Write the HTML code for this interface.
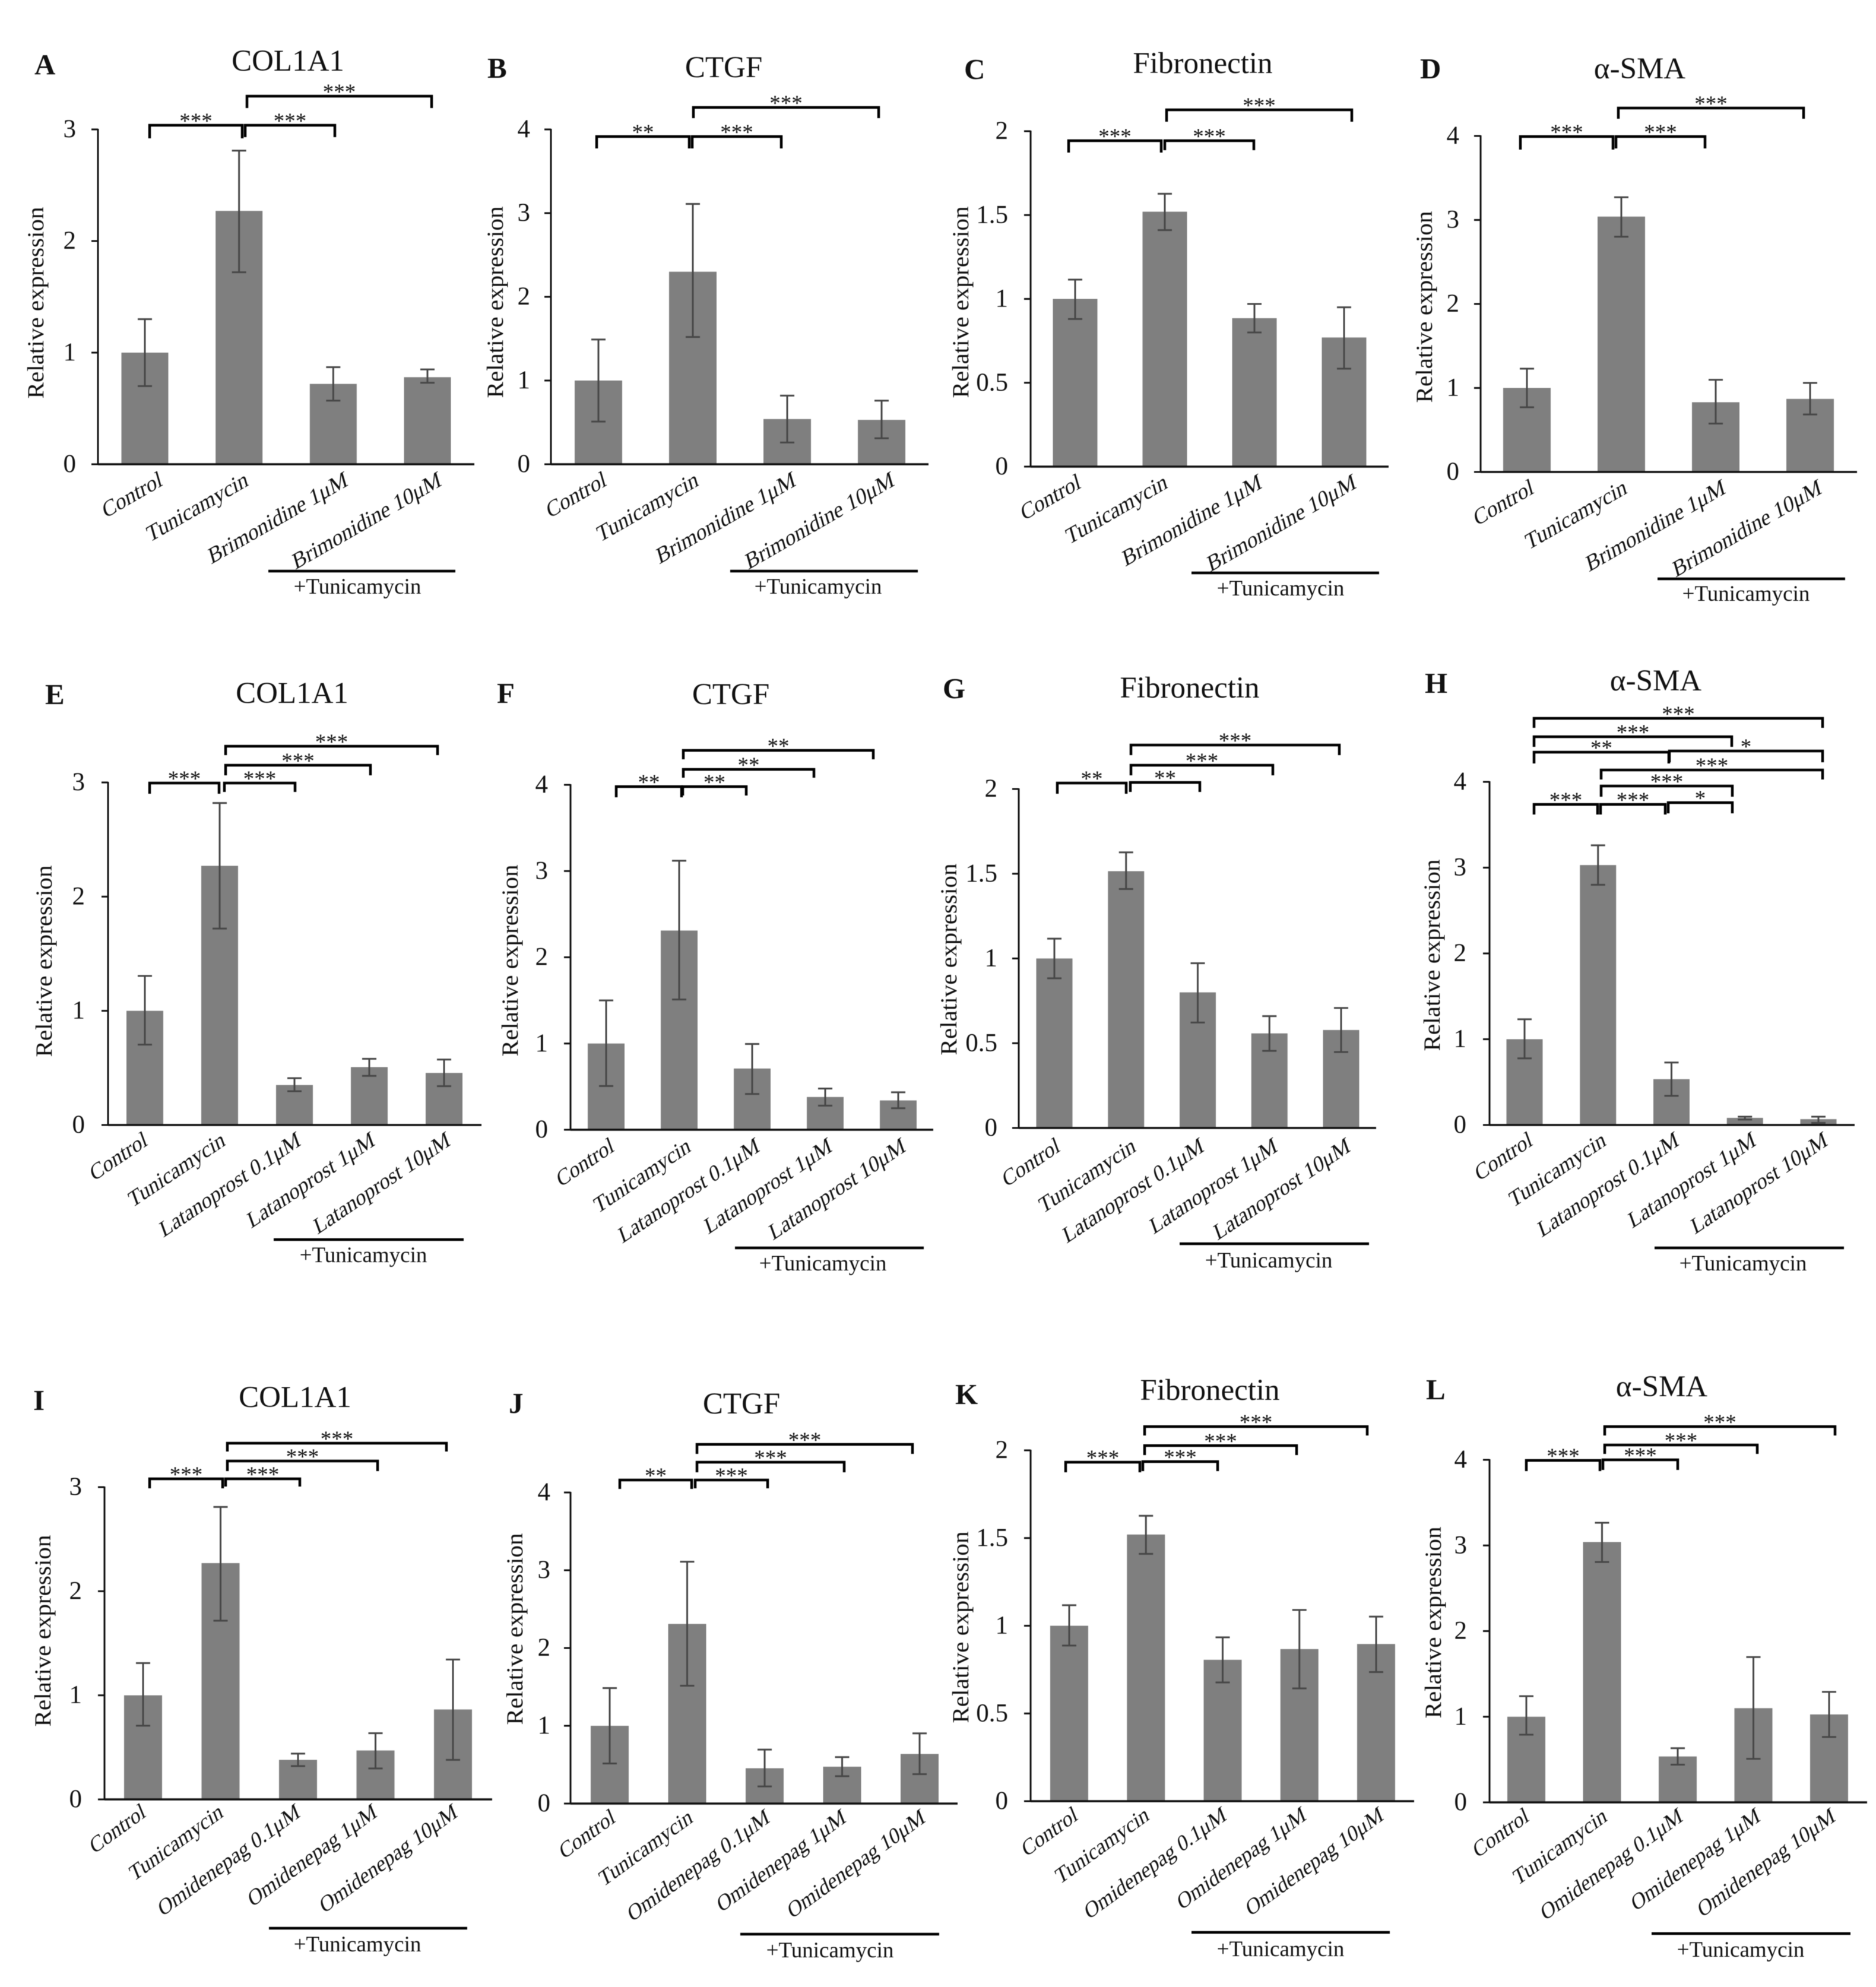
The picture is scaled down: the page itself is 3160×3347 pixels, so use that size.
<!DOCTYPE html>
<html lang="en">
<head>
<meta charset="utf-8">
<title>Relative expression of fibrosis markers</title>
<style>
html,body{margin:0;padding:0;background:#fff;}
svg{display:block;filter:blur(0.6px);}
text{font-family:"Liberation Serif","Noto Serif CJK SC",serif;fill:#111;}
</style>
</head>
<body>
<svg id="figure" xmlns="http://www.w3.org/2000/svg" width="3160" height="3347" viewBox="0 0 3160 3347"></svg>
<script>
// ---- categories ----
const categoriesBrimonidine = ['Control','Tunicamycin','Brimonidine 1μM','Brimonidine 10μM'];
const categoriesLatanoprost = ['Control','Tunicamycin','Latanoprost 0.1μM','Latanoprost 1μM','Latanoprost 10μM'];
const categoriesOmidenepag = ['Control','Tunicamycin','Omidenepag 0.1μM','Omidenepag 1μM','Omidenepag 10μM'];

// ---- tick labels ----
const ticksCol = ['0','1','2','3'];
const ticksFour = ['0','1','2','3','4'];
const ticksFib = ['0','0.5','1','1.5','2'];

// ---- series values and error limits ----
const valuesA = [1, 2.27, 0.72, 0.78];
const lowerA = [0.7, 1.72, 0.57, 0.73];
const upperA = [1.3, 2.81, 0.87, 0.85];
const valuesB = [1, 2.3, 0.54, 0.53];
const lowerB = [0.51, 1.52, 0.26, 0.31];
const upperB = [1.49, 3.11, 0.82, 0.76];
const valuesC = [1, 1.52, 0.885, 0.77];
const lowerC = [0.88, 1.41, 0.8, 0.584];
const upperC = [1.115, 1.627, 0.97, 0.95];
const valuesD = [1, 3.04, 0.83, 0.87];
const lowerD = [0.77, 2.8, 0.576, 0.685];
const upperD = [1.23, 3.27, 1.097, 1.06];
const valuesE = [1, 2.27, 0.35, 0.507, 0.456];
const lowerE = [0.704, 1.72, 0.296, 0.43, 0.34];
const upperE = [1.306, 2.82, 0.41, 0.58, 0.573];
const valuesF = [1, 2.31, 0.71, 0.38, 0.34];
const lowerF = [0.507, 1.51, 0.415, 0.28, 0.25];
const upperF = [1.5, 3.12, 0.995, 0.478, 0.435];
const valuesG = [1, 1.515, 0.8, 0.558, 0.578];
const lowerG = [0.883, 1.41, 0.622, 0.455, 0.448];
const upperG = [1.117, 1.626, 0.972, 0.66, 0.708];
const valuesH = [1, 3.03, 0.534, 0.083, 0.068];
const lowerH = [0.777, 2.8, 0.34, 0.063, 0.024];
const upperH = [1.233, 3.26, 0.728, 0.097, 0.097];
const valuesI = [1, 2.27, 0.38, 0.47, 0.864];
const lowerI = [0.708, 1.717, 0.32, 0.297, 0.38];
const upperI = [1.31, 2.81, 0.44, 0.636, 1.344];
const valuesJ = [1, 2.31, 0.454, 0.474, 0.638];
const lowerJ = [0.515, 1.515, 0.22, 0.352, 0.378];
const upperJ = [1.485, 3.11, 0.694, 0.597, 0.903];
const valuesK = [1, 1.52, 0.806, 0.867, 0.896];
const lowerK = [0.887, 1.41, 0.677, 0.643, 0.736];
const upperK = [1.117, 1.627, 0.934, 1.09, 1.052];
const valuesL = [1, 3.04, 0.536, 1.1, 1.027];
const lowerL = [0.79, 2.807, 0.44, 0.509, 0.763];
const upperL = [1.24, 3.265, 0.633, 1.697, 1.29];

// ---- panel layout (plot frames and annotation placement) ----
const panels = [
 {id:'A',name:'COL1A1',cats:categoriesBrimonidine,vals:valuesA,lo:lowerA,hi:upperA,ticks:ticksCol,
  l:165,r:799,t:218,b:782,first:244,last:720,bw:79,titleX:485,titleY:119,letterX:58,letterY:125,tickR:128,yx:73,yc:510,
  ux1:452,ux2:767,uy:962,px:602,py:1000,dx:[31,17,26,25],top:14,angle:30,ls:37,
  br:[[252,408,210,233,233,'***'],[413,564,210,231,231,'***'],[416,727,161,182,182,'***']]},
 {id:'B',name:'CTGF',cats:categoriesBrimonidine,vals:valuesB,lo:lowerB,hi:upperB,ticks:ticksFour,
  l:928,r:1564,t:218,b:782,first:1008,last:1485,bw:80,titleX:1219,titleY:130,letterX:821,letterY:131,tickR:893,yx:847,yc:509,
  ux1:1230,ux2:1546,uy:962,px:1378,py:1000,dx:[15,11,16,23],top:14,angle:30,ls:37,
  br:[[1005,1161,229,250,250,'**'],[1166,1316,229,250,250,'***'],[1168,1480,180,199,199,'***']]},
 {id:'C',name:'Fibronectin',cats:categoriesBrimonidine,vals:valuesC,lo:lowerC,hi:upperC,ticks:ticksFib,
  l:1736,r:2339,t:221,b:786,first:1811,last:2264,bw:75,titleX:2026,titleY:123,letterX:1624,letterY:133,tickR:1698,yx:1631,yc:509,
  ux1:2007,ux2:2323,uy:965,px:2157,py:1003,dx:[11,6,14,22],top:14,angle:30,ls:37,
  br:[[1800,1956,236,257,257,'***'],[1962,2112,236,253,253,'***'],[1965,2277,184,205,205,'***']]},
 {id:'D',name:'α-SMA',cats:categoriesBrimonidine,vals:valuesD,lo:lowerD,hi:upperD,ticks:ticksFour,
  l:2494,r:3128,t:229,b:795,first:2572,last:3049,bw:80,titleX:2762,titleY:132,letterX:2392,letterY:132,tickR:2458,yx:2412,yc:517,
  ux1:2792,ux2:3108,uy:975,px:2941,py:1012,dx:[13,11,18,21],top:14,angle:30,ls:37,
  br:[[2561,2717,229,252,252,'***'],[2722,2872,229,250,250,'***'],[2726,3038,181,200,200,'***']]},
 {id:'E',name:'COL1A1',cats:categoriesLatanoprost,vals:valuesE,lo:lowerE,hi:upperE,ticks:ticksCol,
  l:182,r:811,t:1318,b:1895,first:244,last:748,bw:62,titleX:492,titleY:1184,letterX:76,letterY:1186,tickR:143,yx:87,yc:1619,
  ux1:461,ux2:781,uy:2088,px:612,py:2126,dx:[6,11,12,11,12],top:12,angle:34,ls:36.5,
  br:[[252,369,1318,1337,1337,'***'],[378,497,1318,1334,1334,'***'],[380,624,1288,1306,1306,'***'],[380,737,1256,1272,1272,'***']]},
 {id:'F',name:'CTGF',cats:categoriesLatanoprost,vals:valuesF,lo:lowerF,hi:upperF,ticks:ticksFour,
  l:961,r:1572,t:1322,b:1903,first:1021,last:1513,bw:62,titleX:1231,titleY:1186,letterX:837,letterY:1184,tickR:923,yx:872,yc:1618,
  ux1:1238,ux2:1556,uy:2102,px:1386,py:2140,dx:[15,21,14,13,14],top:14,angle:34,ls:36.5,
  br:[[1038,1148,1324,1343,1343,'**'],[1150,1257,1324,1340,1340,'**'],[1151,1371,1295,1310,1310,'**'],[1151,1471,1263,1279,1279,'**']]},
 {id:'G',name:'Fibronectin',cats:categoriesLatanoprost,vals:valuesG,lo:lowerG,hi:upperG,ticks:ticksFib,
  l:1716,r:2318,t:1329,b:1900,first:1776,last:2259,bw:61,titleX:2004,titleY:1175,letterX:1588,letterY:1176,tickR:1680,yx:1611,yc:1616,
  ux1:1987,ux2:2306,uy:2095,px:2137,py:2135,dx:[11,18,12,15,17],top:17,angle:34,ls:36.5,
  br:[[1781,1897,1318,1337,1337,'**'],[1904,2021,1317,1334,1334,'**'],[1905,2144,1288,1306,1306,'***'],[1905,2256,1254,1272,1272,'***']]},
 {id:'H',name:'α-SMA',cats:categoriesLatanoprost,vals:valuesH,lo:lowerH,hi:upperH,ticks:ticksFour,
  l:2509,r:3124,t:1317,b:1895,first:2568,last:3063,bw:61,titleX:2789,titleY:1163,letterX:2400,letterY:1167,tickR:2470,yx:2425,yc:1609,
  ux1:2787,ux2:3106,uy:2102,px:2936,py:2140,dx:[15,15,14,20,17],top:12,angle:34,ls:36.5,
  br:[[2584,2691,1354,1372,1372,'***'],[2696,2805,1354,1372,1372,'***'],[2810,2918,1351,1370,1370,'*'],
      [2697,2918,1323,1342,1342,'***'],[2697,3070,1296,1313,1313,'***'],[2584,2811,1266,1286,1286,'**'],
      [2812,3070,1264,1284,1284,'*'],[2584,2917,1240,1258,1258,'***'],[2584,3070,1209,1226,1226,'***']]},
 {id:'I',name:'COL1A1',cats:categoriesOmidenepag,vals:valuesI,lo:lowerI,hi:upperI,ticks:ticksCol,
  l:176,r:829,t:2505,b:3031,first:241,last:763,bw:64,titleX:497,titleY:2370,letterX:56,letterY:2375,tickR:138,yx:85,yc:2747,
  ux1:453,ux2:787,uy:3248,px:602,py:3287,dx:[6,6,5,4,9],top:7,angle:36,ls:36,
  br:[[252,375,2490,2507,2507,'***'],[380,505,2490,2504,2504,'***'],[383,636,2460,2478,2478,'***'],[383,752,2430,2445,2445,'***']]},
 {id:'J',name:'CTGF',cats:categoriesOmidenepag,vals:valuesJ,lo:lowerJ,hi:upperJ,ticks:ticksFour,
  l:961,r:1613,t:2514,b:3038,first:1027,last:1549,bw:64,titleX:1249,titleY:2381,letterX:857,letterY:2380,tickR:927,yx:880,yc:2744,
  ux1:1247,ux2:1582,uy:3258,px:1398,py:3297,dx:[11,11,10,8,11],top:9,angle:36,ls:36,
  br:[[1044,1165,2492,2508,2508,'**'],[1171,1293,2492,2507,2507,'***'],[1174,1422,2462,2480,2480,'***'],[1174,1537,2432,2449,2449,'***']]},
 {id:'K',name:'Fibronectin',cats:categoriesOmidenepag,vals:valuesK,lo:lowerK,hi:upperK,ticks:ticksFib,
  l:1736,r:2382,t:2443,b:3034,first:1801,last:2318,bw:64,titleX:2038,titleY:2358,letterX:1609,letterY:2365,tickR:1698,yx:1631,yc:2741,
  ux1:2007,ux2:2341,uy:3255,px:2157,py:3295,dx:[16,7,8,13,14],top:9,angle:36,ls:36,
  br:[[1795,1920,2462,2480,2480,'***'],[1925,2051,2461,2478,2478,'***'],[1928,2184,2434,2451,2451,'***'],[1928,2303,2402,2418,2418,'***']]},
 {id:'L',name:'α-SMA',cats:categoriesOmidenepag,vals:valuesL,lo:lowerL,hi:upperL,ticks:ticksFour,
  l:2509,r:3145,t:2459,b:3036,first:2571,last:3081,bw:64,titleX:2799,titleY:2352,letterX:2402,letterY:2357,tickR:2471,yx:2427,yc:2733,
  ux1:2782,ux2:3117,uy:3257,px:2932,py:3296,dx:[6,10,10,13,12],top:9,angle:36,ls:36,
  br:[[2571,2695,2459,2478,2478,'***'],[2700,2826,2458,2476,2476,'***'],[2703,2960,2433,2449,2449,'***'],[2703,3091,2402,2418,2418,'***']]}
];

const NS = 'http://www.w3.org/2000/svg';
const root = document.getElementById('figure');

function make(parent, tag, attrs, text) {
  const node = document.createElementNS(NS, tag);
  Object.keys(attrs).forEach(function (k) { node.setAttribute(k, attrs[k]); });
  if (text !== undefined) node.textContent = text;
  parent.appendChild(node);
  return node;
}

panels.forEach(function (p) {
  const n = p.cats.length;
  const yMax = parseFloat(p.ticks[p.ticks.length - 1]);
  const xScale = function (i) { return p.first + i * (p.last - p.first) / (n - 1); };
  const yScale = function (v) { return p.b - v / yMax * (p.b - p.t); };
  const tag = p.id.toLowerCase();

  const g = make(root, 'g', {});
  
  

  const letter = make(g, 'text', {x: p.letterX, y: p.letterY, 'font-size': 49, 'font-weight': 'bold'}, p.id);
  
  

  const title = make(g, 'text', {x: p.titleX, y: p.titleY, 'font-size': 51, 'text-anchor': 'middle'}, p.name);
  
  

  const yTitle = make(g, 'text', {x: p.yx, y: p.yc, 'font-size': 39, 'text-anchor': 'middle', textLength: 323, lengthAdjust: 'spacingAndGlyphs', transform: 'rotate(-90 ' + p.yx + ' ' + p.yc + ')'}, 'Relative expression');
  
  

  // bars
  p.vals.forEach(function (v, i) {
    const bar = make(g, 'rect', {x: xScale(i) - p.bw / 2, y: yScale(v), width: p.bw, height: p.b - yScale(v), fill: '#7f7f7f'});
    
    
  });

  // error bars
  p.vals.forEach(function (v, i) {
    const cx = xScale(i);
    const yHi = yScale(p.hi[i]);
    const yLo = yScale(p.lo[i]);
    const err = make(g, 'path', {d: 'M' + (cx - 12) + ' ' + yHi + 'H' + (cx + 12) + 'M' + cx + ' ' + yHi + 'V' + yLo + 'M' + (cx - 12) + ' ' + yLo + 'H' + (cx + 12), fill: 'none', stroke: '#474747', 'stroke-width': 3});
    
    
  });

  // axes
  const yAxis = make(g, 'line', {x1: p.l, x2: p.l, y1: p.t - 1, y2: p.b + 1, stroke: '#111', 'stroke-width': 3});
  
  
  const xAxis = make(g, 'line', {x1: p.l, x2: p.r, y1: p.b, y2: p.b, stroke: '#111', 'stroke-width': 3.5});
  
  

  // y ticks
  p.ticks.forEach(function (label) {
    const ty = yScale(parseFloat(label));
    const mark = make(g, 'line', {x1: p.l - 11, x2: p.l, y1: ty, y2: ty, stroke: '#111', 'stroke-width': 3});
    
    
    const txt = make(g, 'text', {x: p.tickR, y: ty + 13, 'font-size': 43, 'text-anchor': 'end'}, label);
    
    
  });

  // x labels
  p.cats.forEach(function (label, i) {
    const lx = xScale(i) + p.dx[i];
    const ly = p.b + p.top + 21;
    const txt = make(g, 'text', {x: 0, y: 0, 'font-size': p.ls, 'text-anchor': 'end', transform: 'translate(' + lx + ' ' + ly + ') rotate(' + (-p.angle) + ') skewX(-14)'}, label);
    
    
  });

  // treatment group line
  const groupLine = make(g, 'line', {x1: p.ux1, x2: p.ux2, y1: p.uy, y2: p.uy, stroke: '#000', 'stroke-width': 4.5});
  
  
  const groupLabel = make(g, 'text', {x: p.px, y: p.py, 'font-size': 37, 'text-anchor': 'middle'}, '+Tunicamycin');
  
  

  // significance brackets
  p.br.forEach(function (b, i) {
    const path = make(g, 'path', {d: 'M' + b[0] + ' ' + b[3] + 'V' + (b[2] + 1) + 'H' + b[1] + 'V' + b[4], fill: 'none', stroke: '#000', 'stroke-width': 4.5});
    
    
    const stars = make(g, 'text', {x: (b[0] + b[1]) / 2, y: b[2] + 6, 'font-size': 37, 'text-anchor': 'middle', fill: '#000'}, b[5]);
    
    
  });
});
</script>
</body>
</html>
